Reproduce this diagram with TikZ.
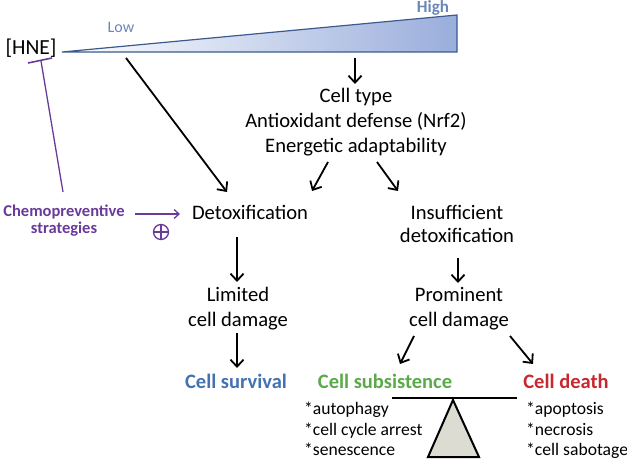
\documentclass[tikz,border=0pt]{standalone}
\usepackage{fontspec}
\setmainfont{Carlito}
\usetikzlibrary{arrows.meta}
\definecolor{wedgeline}{HTML}{3B5A8E}
\definecolor{wedgefill}{HTML}{9AAEDC}
\definecolor{lowblue}{HTML}{6A86B8}
\definecolor{survblue}{HTML}{4472B0}
\definecolor{subgreen}{HTML}{5AAA4A}
\definecolor{deathred}{HTML}{C8282F}
\definecolor{chemo}{HTML}{6A3A9A}
\definecolor{balfill}{HTML}{DCDCD2}
\tikzset{
  txt/.style={font=\fontsize{20.6}{25}\selectfont, align=center, inner sep=0pt, anchor=base},
  lbl/.style={font=\bfseries\fontsize{20.5}{24}\selectfont, inner sep=0pt, anchor=base},
  small/.style={font=\fontsize{17.6}{20.5}\selectfont, align=left, inner sep=0pt, anchor=base west},
  arr/.style={-{Straight Barb[length=7pt,width=13pt]}, line width=1.8pt, black},
  parr/.style={-{Straight Barb[length=5pt,width=9pt]}, line width=1.3pt, chemo},
}
\begin{document}
\begin{tikzpicture}[x=1pt,y=-1pt]
\useasboundingbox (0,0) rectangle (627,462);
% wedge
\shade[left color=white, right color=wedgefill] (62,52) -- (457,15) -- (457,52) -- cycle;
\draw[wedgeline, line width=1.2pt, line join=miter] (62,52) -- (457,15) -- (457,52) -- cycle;
\node[txt, font=\fontsize{21.5}{25}\selectfont] (hne) at (31,55) {[HNE]};
\node[font=\fontsize{16}{18}\selectfont, text=lowblue, inner sep=0pt, anchor=base] (low) at (121,33) {Low};
\node[font=\bfseries\fontsize{17}{18}\selectfont, text=lowblue, inner sep=0pt, anchor=base] (high) at (433,13) {High};
\coordinate (wedgebot) at (355,58);
\coordinate (wedgelow) at (126,58);
% central text (anchor=base is the baseline of the last line)
\node[txt] (ctype) at (356,153) {Cell type\\Antioxidant defense (Nrf2)\\Energetic adaptability};
\node[txt] (detox) at (250,220) {Detoxification};
\node[txt, font=\fontsize{20.6}{23}\selectfont] (insuf) at (457,243) {Insufficient\\detoxification};
\node[txt] (limited) at (238,327) {Limited\\cell damage};
\node[txt] (prom) at (459,327) {Prominent\\cell damage};
\node[lbl, text=survblue] (surv) at (236,389) {Cell survival};
\node[lbl, text=subgreen] (subs) at (385,389) {Cell subsistence};
\node[lbl, text=deathred] (death) at (566,389) {Cell death};
\node[small] (sublist) at (304,456) {*autophagy\\*cell cycle arrest\\*senescence};
\node[small] (deathlist) at (526,456) {*apoptosis\\*necrosis\\*cell sabotage};
\node[align=center, inner sep=0pt, anchor=base, font=\bfseries\fontsize{16.5}{17}\selectfont, text=chemo] (chemo) at (64,234) {Chemopreventive\\strategies};
\node[draw=chemo, line width=1.3pt, circle, minimum size=15pt, inner sep=0pt] (plus) at (161,232) {};
\draw[chemo, line width=1.3pt] (plus.north) -- (plus.south) (plus.west) -- (plus.east);
% arrows
\draw[arr] (wedgebot) -- (355,84);
\draw[arr] (wedgelow) -- (227,192);
\draw[arr] (328,162) -- (312,191);
\draw[arr] (377,162) -- (398,191);
\draw[arr] (237,237) -- (237,282);
\draw[arr] (237,333) -- (237,368);
\draw[arr] (458,258) -- (458,283);
\draw[arr] (414,336) -- (400,364);
\draw[arr] (510,336) -- (533,364);
\draw[parr] (135,214) -- (180,214);
% inhibition
\coordinate (tbar) at (41,61);
\draw[chemo, line width=1.3pt] (63,192) -- (tbar);
\draw[chemo, line width=1.6pt] (28,63) -- (52,58);
% balance
\draw[black, line width=1.6pt] (392,398) -- (517,398);
\draw[black, line width=2pt, fill=balfill, line join=miter] (453,400) -- (479,457) -- (428,457) -- cycle;
\end{tikzpicture}
\end{document}
